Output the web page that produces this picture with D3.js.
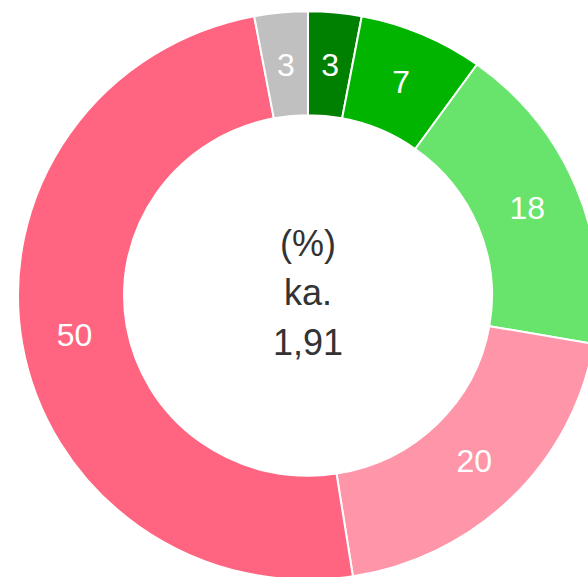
<!DOCTYPE html>
<html lang="en">
<head>
    <meta charset="utf-8">
    <style type="text/css">
        body { margin: 0; background: #fff; }
        .slice-label {
            font-family: "Liberation Sans", Arial, sans-serif;
            font-size: 32px;
            fill: #fff;
        }
        .center-label {
            font-family: "Liberation Sans", Arial, sans-serif;
            font-size: 36px;
            fill: #333;
        }
    </style>
    <script src="https://cdn.jsdelivr.net/npm/d3@7"></script>
</head>
<body>
<script>
// slices clockwise from 12 o'clock
const categories = ["dark green", "green", "light green", "light red", "red", "grey"];
const values = [3, 7, 18, 20, 50, 3];
const colors = ["#008000", "#00b400", "#68e46c", "#ff95a8", "#ff6480", "#c0c0c0"];
const centerLines = ["(%)", "ka.", "1,91"];

let w = 588;
let h = 577;
let cx = 308;
let cy = 295.5;
let outerR = 290;
let innerR = 184;
let squash = 0.98;   // reference is a touch flatter than round

let svg = d3.select("body")
            .append("svg")
            .attr("width", w)
            .attr("height", h);

let g = svg.append("g")
           .attr("transform", "translate(" + cx + "," + cy + ") scale(1," + squash + ")");

let data = categories.map((c, i) => {
    return { name: c, value: values[i], color: colors[i] };
});

let pie = d3.pie()
            .sort(null)
            .value((d) => { return d.value; });

let arc = d3.arc()
            .innerRadius(innerR)
            .outerRadius(outerR);

let arcs = pie(data);

g.selectAll("path")
    .data(arcs)
    .enter()
    .append("path")
    .attr("d", arc)
    .attr("fill", (d) => { return d.data.color; })
    .attr("stroke", "#fff")
    .attr("stroke-width", 2);

g.selectAll("text.slice-label")
    .data(arcs)
    .enter()
    .append("text")
    .attr("class", "slice-label")
    .attr("text-anchor", "middle")
    .attr("dy", "0.36em")
    .attr("transform", (d) => { return "translate(" + arc.centroid(d) + ")"; })
    .text((d) => { return d.data.value; });

let lineH = 49.5;
svg.append("g")
    .attr("transform", "translate(" + cx + "," + cy + ")")
    .selectAll("text")
    .data(centerLines)
    .enter()
    .append("text")
    .attr("class", "center-label")
    .attr("text-anchor", "middle")
    .attr("y", (d, i) => { return 9.5 + (i - 1) * lineH; })
    .text((d) => { return d; });
</script>
</body>
</html>
